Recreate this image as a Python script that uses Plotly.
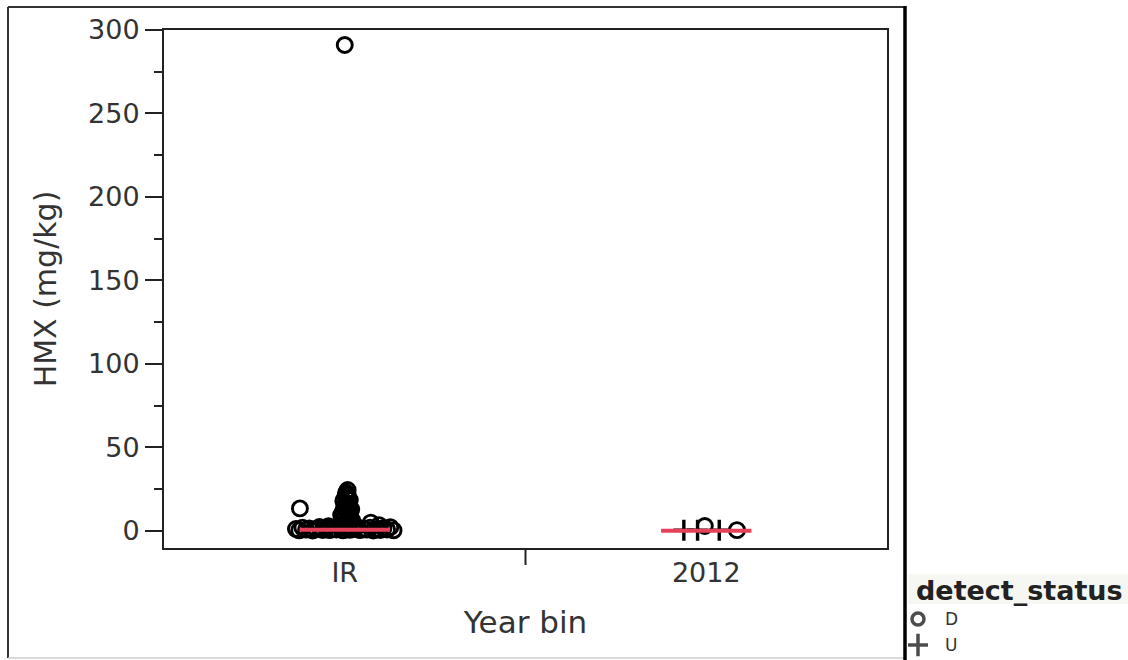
import plotly.graph_objects as go

# Year bins on the category axis
bins = ["IR", "2012"]
bin_pos = [0, 1]

# IR bin, detected (D) HMX results in mg/kg, each with its jitter offset inside the bin
ir_base_values = [1.2, 0.4, 2.0, 0.8, 1.5, 0.3, 1.0, 2.4, 0.6, 1.8, 0.5, 1.3, 0.9, 2.2, 0.4,
                  1.6, 0.7, 1.1, 2.6, 0.5, 1.4, 0.8, 2.0, 0.3, 1.2, 0.6, 1.7, 0.9, 2.3, 0.4]
ir_base_jitter = [-0.135, -0.126, -0.117, -0.107, -0.098, -0.089, -0.079, -0.070, -0.061,
                  -0.051, -0.042, -0.033, -0.023, -0.014, -0.005, 0.005, 0.014, 0.023, 0.033,
                  0.042, 0.051, 0.061, 0.070, 0.079, 0.089, 0.098, 0.107, 0.117, 0.126, 0.135]
ir_column_values = [3.0, 4.0, 5.0, 6.0, 7.0, 8.0, 9.0, 10.0, 11.0, 12.0, 13.0, 14.0, 15.0,
                    16.0, 17.0, 18.0, 19.0, 20.0, 21.0, 22.0, 23.0, 24.5, 6.5, 9.5, 12.5,
                    15.5, 18.5]
ir_column_jitter = [0.012, -0.004, 0.016, 0.002, -0.008, 0.010, 0.000, 0.014, -0.006, 0.006,
                    0.018, -0.002, 0.008, 0.012, 0.004, -0.004, 0.010, 0.006, 0.002, 0.008,
                    0.004, 0.008, 0.020, -0.010, 0.016, 0.000, 0.014]
ir_other_values = [291.0, 13.5, 5.0, 3.5, 2.8]
ir_other_jitter = [0.0, -0.124, 0.072, 0.095, -0.045]

# 2012 bin: detected (D) and undetected (U) results
y12_d_values = [3.0, 0.5]
y12_d_jitter = [-0.004, 0.085]
y12_u_values = [0.5, 0.5, 0.5]
y12_u_jitter = [-0.062, -0.024, 0.036]

# Bin medians, drawn as short red bars
medians = [0.7, 0.2]
median_halfwidth = 0.125

# Legend entries for detect_status
status_labels = ["D", "U"]
status_symbols = ["circle-open", "cross-thin-open"]

FONT = "DejaVu Sans"
W, H = 1128, 660


def fx(p):
    return p / W


def fy(p):
    return 1 - p / H


d_x = ([bin_pos[0] + j for j in ir_base_jitter + ir_column_jitter + ir_other_jitter]
       + [bin_pos[1] + j for j in y12_d_jitter])
d_y = ir_base_values + ir_column_values + ir_other_values + y12_d_values
u_x = [bin_pos[1] + j for j in y12_u_jitter]
u_y = y12_u_values

fig = go.Figure()

fig.add_trace(go.Scatter(
    x=d_x, y=d_y, mode="markers", name="D", showlegend=False,
    marker=dict(symbol="circle-open", size=15, color="black",
                line=dict(width=2.9, color="black"))))
fig.add_trace(go.Scatter(
    x=u_x, y=u_y, mode="markers", name="U", showlegend=False,
    marker=dict(symbol="cross-thin-open", size=15, color="black",
                line=dict(width=3.4, color="black"))))

for p, m in zip(bin_pos, medians):
    fig.add_trace(go.Scatter(
        x=[p - median_halfwidth, p + median_halfwidth], y=[m, m], mode="lines",
        line=dict(color="#e8405a", width=4), showlegend=False, hoverinfo="skip"))

# legend keys on a small helper axis pair, one row per status
fig.add_trace(go.Scatter(
    x=[0, 0], y=status_labels, xaxis="x2", yaxis="y2", mode="markers",
    showlegend=False, hoverinfo="skip",
    marker=dict(symbol=status_symbols, size=[12, 16], color="black",
                line=dict(width=3.5, color="black"))))

fig.update_layout(
    width=W, height=H, autosize=False,
    margin=dict(l=0, r=0, t=0, b=0),
    paper_bgcolor="white", plot_bgcolor="white",
    font=dict(family=FONT, color="#333333"),
    showlegend=False,
    xaxis=dict(
        domain=[fx(164), fx(887)],
        range=[-0.5, 1.5], tickvals=bin_pos, ticktext=bins, ticks="",
        showgrid=False, zeroline=False, showline=True, linecolor="#222222",
        linewidth=2, mirror=True, automargin=False,
        tickfont=dict(size=27, color="#333333"),
        title=dict(text="Year bin", font=dict(size=31, color="#333333"), standoff=24),
    ),
    yaxis=dict(
        domain=[fy(548), fy(30)],
        range=[-10.2, 300], tickvals=[0, 50, 100, 150, 200, 250, 300],
        ticks="outside", ticklen=17, tickwidth=2, tickcolor="#222222",
        minor=dict(tickvals=[25, 75, 125, 175, 225, 275], ticks="outside",
                   ticklen=8, tickwidth=2, tickcolor="#222222"),
        showgrid=False, zeroline=False, showline=True, linecolor="#222222",
        linewidth=2, mirror=True, automargin=False,
        tickfont=dict(size=27, color="#333333"),
        title=dict(text="HMX (mg/kg)", font=dict(size=30, color="#333333"), standoff=23),
    ),
    xaxis2=dict(domain=[fx(908), fx(928)], range=[-1, 1], visible=False, fixedrange=True),
    yaxis2=dict(domain=[fy(658), fy(606)], anchor="x2", visible=False, fixedrange=True,
                type="category", categoryorder="array",
                categoryarray=status_labels[::-1], range=[-0.5, 1.5]),
)

annotations = [
    dict(text="<b>detect_status</b>", xref="paper", yref="paper", x=fx(914), y=fy(590),
         xanchor="left", yanchor="middle", showarrow=False,
         font=dict(size=27, color="#222222", family=FONT)),
]
for lab in status_labels:
    annotations.append(dict(text=lab, xref="paper", x=fx(943), yref="y2", y=lab,
                            xanchor="left", yanchor="middle", showarrow=False,
                            font=dict(size=17, color="#333333", family=FONT)))

shapes = [
    # divider tick between the two bins
    dict(type="line", xref="x", yref="paper", x0=0.5, x1=0.5, y0=fy(548), y1=fy(565),
         line=dict(color="#222222", width=2)),
    # outer frame
    dict(type="line", xref="paper", yref="paper", x0=fx(8), x1=fx(905), y0=fy(7), y1=fy(7),
         line=dict(color="#333333", width=2)),
    dict(type="line", xref="paper", yref="paper", x0=fx(8), x1=fx(8), y0=fy(7), y1=fy(658),
         line=dict(color="#333333", width=2)),
    dict(type="line", xref="paper", yref="paper", x0=fx(8), x1=fx(905), y0=fy(658), y1=fy(658),
         line=dict(color="#cccccc", width=1.5)),
    dict(type="line", xref="paper", yref="paper", x0=fx(905), x1=fx(905), y0=fy(6), y1=fy(660),
         line=dict(color="black", width=3.5)),
    # legend title band
    dict(type="rect", xref="paper", yref="paper", x0=fx(908), x1=fx(1128), y0=fy(574), y1=fy(604),
         fillcolor="#f6f6f2", line=dict(width=0), layer="below"),
]
fig.update_layout(shapes=shapes, annotations=annotations)

fig.write_html("out.html")
